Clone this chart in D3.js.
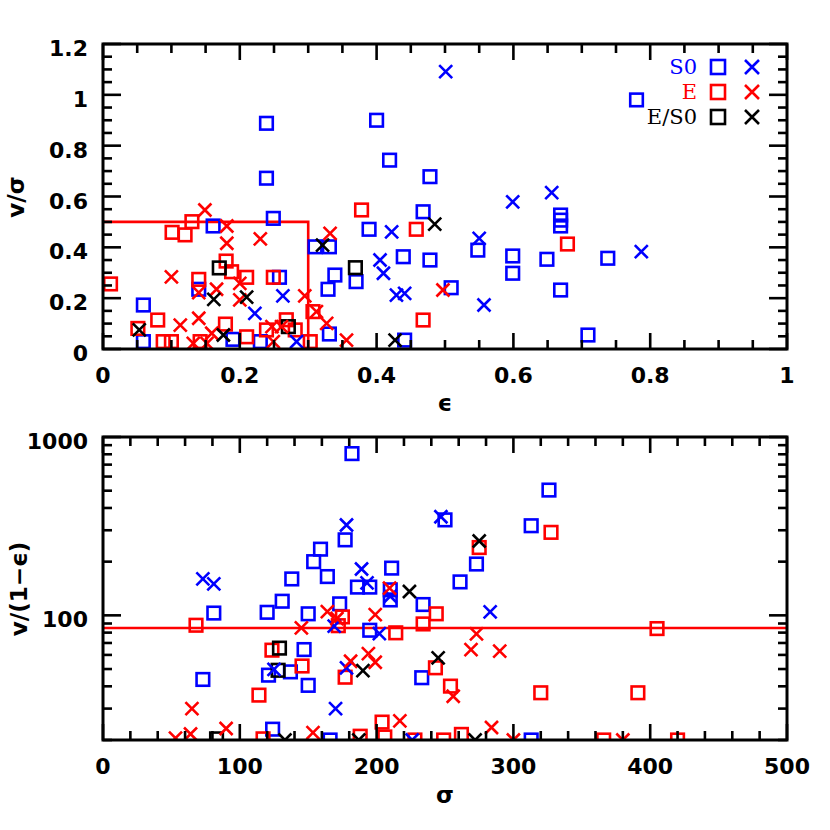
<!DOCTYPE html>
<html>
<head>
<meta charset="utf-8">
<script src="https://cdn.jsdelivr.net/npm/d3@7"></script>
<style>
  body { margin: 0; background: #fff; }
  svg { display: block; }
  .tick-label { font-family: "DejaVu Sans", sans-serif; font-weight: bold; font-size: 22px; }
  .axis-title { font-family: "DejaVu Sans", sans-serif; font-weight: bold; font-size: 23px; }
  .legend-text { font-family: "DejaVu Serif", serif; font-size: 21px; }
</style>
</head>
<body>
<svg id="chart" width="830" height="830"></svg>
<script>
// top panel: [ellipticity, v/sigma]
const s0SquaresTop = [
  [0.239, 0.888], [0.239, 0.672], [0.249, 0.514], [0.161, 0.484], [0.40, 0.90],
  [0.419, 0.743], [0.478, 0.678], [0.468, 0.540], [0.389, 0.471], [0.31, 0.402],
  [0.331, 0.402], [0.439, 0.363], [0.478, 0.350], [0.339, 0.291], [0.258, 0.282],
  [0.329, 0.235], [0.370, 0.265], [0.14, 0.235], [0.059, 0.173], [0.059, 0.029],
  [0.19, 0.038], [0.23, 0.029], [0.331, 0.059], [0.441, 0.035], [0.509, 0.241],
  [0.78, 0.98], [0.669, 0.527], [0.669, 0.507], [0.669, 0.484], [0.548, 0.389],
  [0.599, 0.366], [0.599, 0.298], [0.649, 0.353], [0.738, 0.357], [0.669, 0.232],
  [0.709, 0.055]
];
const s0CrossesTop = [
  [0.501, 1.091], [0.55, 0.435], [0.599, 0.579], [0.656, 0.615], [0.787, 0.383],
  [0.557, 0.173], [0.422, 0.461], [0.405, 0.35], [0.41, 0.298], [0.429, 0.212],
  [0.441, 0.219], [0.263, 0.209], [0.222, 0.14], [0.283, 0.029]
];
const eSquaresTop = [
  [0.011, 0.256], [0.051, 0.081], [0.08, 0.114], [0.101, 0.459], [0.12, 0.449],
  [0.13, 0.501], [0.14, 0.274], [0.18, 0.346], [0.188, 0.304], [0.21, 0.282],
  [0.249, 0.282], [0.179, 0.098], [0.088, 0.029], [0.1, 0.029], [0.142, 0.029],
  [0.21, 0.048], [0.239, 0.075], [0.281, 0.075], [0.307, 0.147], [0.303, 0.029],
  [0.378, 0.547], [0.458, 0.471], [0.468, 0.114], [0.679, 0.413], [0.268, 0.115]
];
const eCrossesTop = [
  [0.149, 0.547], [0.181, 0.484], [0.181, 0.416], [0.23, 0.433], [0.1, 0.284],
  [0.14, 0.222], [0.166, 0.235], [0.2, 0.258], [0.2, 0.193], [0.14, 0.121],
  [0.113, 0.094], [0.159, 0.062], [0.132, 0.022], [0.152, 0.022], [0.247, 0.088],
  [0.261, 0.088], [0.249, 0.029], [0.295, 0.209], [0.312, 0.147], [0.327, 0.101],
  [0.332, 0.455], [0.356, 0.035], [0.497, 0.232]
];
const es0SquaresTop = [[0.17, 0.319], [0.369, 0.32], [0.271, 0.088]];
const es0CrossesTop = [
  [0.053, 0.075], [0.162, 0.195], [0.21, 0.204], [0.176, 0.055], [0.321, 0.409],
  [0.485, 0.491], [0.427, 0.035]
];

// bottom panel: [sigma, v/(1-eps)]
const s0SquaresBot = [
  [182, 807], [326, 504], [313, 318], [250, 343], [177, 265], [159, 235], [154, 200],
  [164, 165], [138, 160], [131, 120], [120, 104], [81, 103], [150, 102], [173, 116],
  [186, 144], [195, 144], [211, 184], [210, 139], [210, 122], [195, 82.5], [147, 64.3],
  [137, 48.2], [121, 46.2], [73, 43.7], [150, 40.5], [124, 23], [166, 20], [273, 194],
  [261, 154], [234, 115], [233, 44.7], [313, 20]
];
const s0CrossesBot = [
  [73, 160], [81, 150], [178, 321], [247, 357], [189, 182], [193, 152], [210, 128],
  [169, 87], [202, 79], [283, 104.5], [178, 50.8], [125, 49.8], [170, 30], [226, 20]
];
const eSquaresBot = [
  [68, 88], [123.5, 63.8], [145.5, 52], [114, 35.7], [172, 87.5], [175, 98], [214, 79.8],
  [177, 45], [204, 25.2], [188, 21], [206, 20.8], [117, 20.3], [275, 240], [327.5, 292],
  [243.6, 102], [234, 89.5], [243, 50.8], [254, 40.1], [320, 36.8], [228, 20], [249, 20],
  [262, 21.5], [405, 84.3], [391, 36.8], [366, 20], [420, 20]
];
const eCrossesBot = [
  [65, 30], [64, 21.6], [53, 20.5], [90, 23.2], [145, 85], [164, 105], [171, 96],
  [199, 101], [209.5, 142], [194, 61], [199, 54.6], [181, 55.3], [153.5, 22], [217, 25.6],
  [273, 78.7], [269, 64.3], [290, 63], [256, 35.2], [284, 23.5], [300, 20], [380, 20]
];
const es0SquaresBot = [[129, 65.5], [128, 49.2], [83, 20.3]];
const es0CrossesBot = [
  [224, 136], [275, 261], [245, 57.8], [190, 49], [133, 20], [187, 20], [272, 20]
];

// reference lines
const topBox = [[0, 0.5], [0.3, 0.5], [0.3, 0]];
const botLevel = 85;

const legendRows = [
  { label: "S0", color: "#0000ff" },
  { label: "E", color: "#ff0000" },
  { label: "E/S0", color: "#000000" },
];

const svg = d3.select("#chart");
const fmt = d3.format("~g");

function drawSquares(g, pts, x, y, color) {
  g.append("g")
    .selectAll("rect")
    .data(pts)
    .join("rect")
    .attr("x", (d) => x(d[0]) - 6.3)
    .attr("y", (d) => y(d[1]) - 6.3)
    .attr("width", 12.6)
    .attr("height", 12.6)
    .attr("fill", "none")
    .attr("stroke", color)
    .attr("stroke-width", 2.6);
}

function crossPath(cx, cy, s) {
  return `M${cx - s},${cy - s}L${cx + s},${cy + s}M${cx - s},${cy + s}L${cx + s},${cy - s}`;
}

function drawCrosses(g, pts, x, y, color) {
  g.append("g")
    .selectAll("path")
    .data(pts)
    .join("path")
    .attr("d", (d) => crossPath(x(d[0]), y(d[1]), 6.5))
    .attr("fill", "none")
    .attr("stroke", color)
    .attr("stroke-width", 2.6);
}

function drawFrame(g, x, y, opt) {
  const W = x.range()[1];
  const H = y.range()[0];
  const tk = g.append("g").attr("stroke", "#000").attr("stroke-width", 2.6);

  opt.xMinor.forEach((v) => {
    const len = opt.xMajor.includes(v) ? 16 : 9;
    tk.append("line").attr("x1", x(v)).attr("x2", x(v)).attr("y1", H).attr("y2", H - len);
    tk.append("line").attr("x1", x(v)).attr("x2", x(v)).attr("y1", 0).attr("y2", len);
  });
  opt.yMinor.forEach((v) => {
    const len = opt.yMajor.includes(v) ? 18 : 9;
    tk.append("line").attr("x1", 0).attr("x2", len).attr("y1", y(v)).attr("y2", y(v));
    tk.append("line").attr("x1", W).attr("x2", W - len).attr("y1", y(v)).attr("y2", y(v));
  });

  g.append("rect")
    .attr("width", W)
    .attr("height", H)
    .attr("fill", "none")
    .attr("stroke", "#000")
    .attr("stroke-width", 3);

  g.append("g")
    .selectAll("text")
    .data(opt.xMajor)
    .join("text")
    .attr("class", "tick-label")
    .attr("x", (d) => x(d))
    .attr("y", H + 34)
    .attr("text-anchor", "middle")
    .text((d) => fmt(d));

  g.append("g")
    .selectAll("text")
    .data(opt.yMajor)
    .join("text")
    .attr("class", "tick-label")
    .attr("x", -15)
    .attr("y", (d) => y(d) + 12)
    .attr("text-anchor", "end")
    .text((d) => fmt(d));
}

function panel(top, height, xDomain, yScale, yDomain, clipId) {
  const left = 103;
  const W = 684;
  const g = svg.append("g").attr("transform", `translate(${left}, ${top})`);
  const x = d3.scaleLinear().domain(xDomain).range([0, W]);
  const y = yScale().domain(yDomain).range([height, 0]);
  svg.append("clipPath").attr("id", clipId).append("rect").attr("width", W).attr("height", height);
  const plot = g.append("g").attr("clip-path", `url(#${clipId})`);
  return { g, plot, x, y, W, H: height };
}

// ---- top panel ----
const p1 = panel(44, 305, [0, 1], d3.scaleLinear, [0, 1.2], "clip1");

p1.plot.append("path")
  .datum(topBox)
  .attr("d", d3.line().x((d) => p1.x(d[0])).y((d) => p1.y(d[1])))
  .attr("fill", "none")
  .attr("stroke", "#ff0000")
  .attr("stroke-width", 2.6);

drawSquares(p1.plot, s0SquaresTop, p1.x, p1.y, "#0000ff");
drawSquares(p1.plot, eSquaresTop, p1.x, p1.y, "#ff0000");
drawSquares(p1.plot, es0SquaresTop, p1.x, p1.y, "#000000");
drawCrosses(p1.plot, s0CrossesTop, p1.x, p1.y, "#0000ff");
drawCrosses(p1.plot, eCrossesTop, p1.x, p1.y, "#ff0000");
drawCrosses(p1.plot, es0CrossesTop, p1.x, p1.y, "#000000");

drawFrame(p1.g, p1.x, p1.y, {
  xMajor: p1.x.ticks(5),
  xMinor: p1.x.ticks(20),
  yMajor: p1.y.ticks(6),
  yMinor: p1.y.ticks(24),
});

const legend = p1.g.append("g");
legendRows.forEach((r, i) => {
  const ly = 23 + i * 25;
  legend.append("text")
    .attr("class", "legend-text")
    .attr("x", p1.W - 90)
    .attr("y", ly + 7)
    .attr("text-anchor", "end")
    .attr("fill", r.color)
    .text(r.label);
  legend.append("rect")
    .attr("x", p1.W - 76)
    .attr("y", ly - 7)
    .attr("width", 14)
    .attr("height", 14)
    .attr("fill", "none")
    .attr("stroke", r.color)
    .attr("stroke-width", 2.6);
  legend.append("path")
    .attr("d", crossPath(p1.W - 35, ly, 7))
    .attr("fill", "none")
    .attr("stroke", r.color)
    .attr("stroke-width", 2.6);
});

svg.append("text")
  .attr("class", "axis-title")
  .attr("x", 445)
  .attr("y", 411)
  .attr("text-anchor", "middle")
  .text("\u03f5");

svg.append("text")
  .attr("class", "axis-title")
  .attr("transform", "translate(24, 197) rotate(-90)")
  .attr("text-anchor", "middle")
  .text("v/\u03c3");

// ---- bottom panel ----
const p2 = panel(437, 303, [0, 500], d3.scaleLog, [20, 1000], "clip2");

p2.plot.append("line")
  .attr("x1", 0)
  .attr("x2", p2.W)
  .attr("y1", p2.y(botLevel))
  .attr("y2", p2.y(botLevel))
  .attr("stroke", "#ff0000")
  .attr("stroke-width", 2.6);

drawSquares(p2.plot, s0SquaresBot, p2.x, p2.y, "#0000ff");
drawSquares(p2.plot, eSquaresBot, p2.x, p2.y, "#ff0000");
drawSquares(p2.plot, es0SquaresBot, p2.x, p2.y, "#000000");
drawCrosses(p2.plot, s0CrossesBot, p2.x, p2.y, "#0000ff");
drawCrosses(p2.plot, eCrossesBot, p2.x, p2.y, "#ff0000");
drawCrosses(p2.plot, es0CrossesBot, p2.x, p2.y, "#000000");

const logTicks = p2.y.ticks();
drawFrame(p2.g, p2.x, p2.y, {
  xMajor: p2.x.ticks(5),
  xMinor: p2.x.ticks(25),
  yMajor: logTicks.filter((v) => Math.abs(Math.log10(v) % 1) < 1e-9),
  yMinor: logTicks,
});

svg.append("text")
  .attr("class", "axis-title")
  .attr("x", 445)
  .attr("y", 803)
  .attr("text-anchor", "middle")
  .text("\u03c3");

svg.append("text")
  .attr("class", "axis-title")
  .attr("transform", "translate(27, 589) rotate(-90)")
  .attr("text-anchor", "middle")
  .text("v/(1\u2212\u03f5)");
</script>
</body>
</html>
